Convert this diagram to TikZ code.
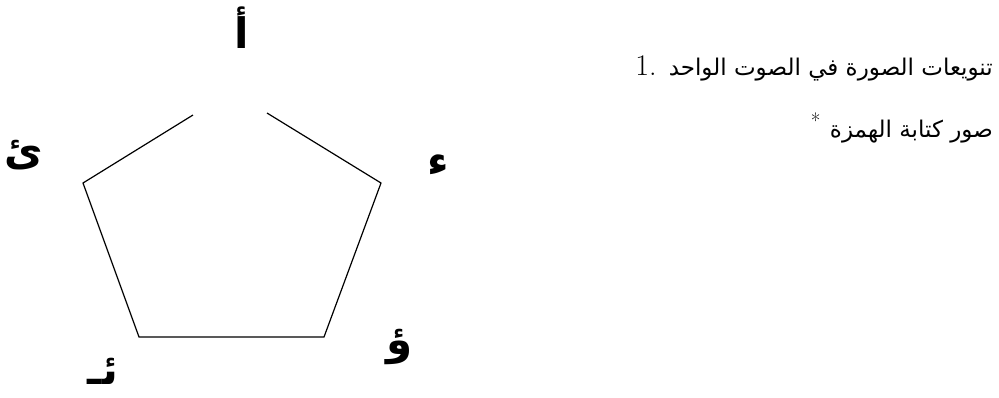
\documentclass[tikz,border=0pt]{standalone}
\usepackage{fontspec}
\TeXXeTstate=1
\newfontfamily\arabicfont[Script=Arabic]{DejaVu Sans}

\begin{document}
\begin{tikzpicture}[x=1pt,y=-1pt,
    hamza/.style={inner sep=0,font=\arabicfont\bfseries\fontsize{42}{48}\selectfont},
    textline/.style={inner sep=0,anchor=east,font=\fontsize{30}{34}\selectfont}]
    \useasboundingbox (0,0) rectangle (999,397);
    % pentagon, open at the top
    \coordinate (TL) at (193,115);
    \coordinate (TR) at (267,113);
    \coordinate (L)  at (83,183);
    \coordinate (R)  at (381,183);
    \coordinate (BL) at (139,337);
    \coordinate (BR) at (324,337);
    \draw[line width=1.2pt] (TL) -- (L) -- (BL) -- (BR) -- (R) -- (TR);
    % the five forms of the hamza
    \node[hamza] (alif)  at (242,28)  {\beginR أ\endR};
    \node[hamza] (ya)    at (24,155)  {\beginR ئ\endR};
    \node[hamza] (alone) at (438,165) {\beginR ء\endR};
    \node[hamza] (waw)   at (400,347) {\beginR ؤ\endR};
    \node[hamza] (nabra) at (103,371) {\beginR ئـ\endR};
    % heading lines
    \node[textline] (title) at (993,68) {1. {\arabicfont\fontsize{23}{28}\selectfont\beginR تنويعات الصورة في الصوت الواحد\endR}};
    \node[textline] (sub)   at (993,128) {\textsuperscript{*} {\arabicfont\fontsize{23}{28}\selectfont\beginR صور كتابة الهمزة\endR}};
\end{tikzpicture}
\end{document}
